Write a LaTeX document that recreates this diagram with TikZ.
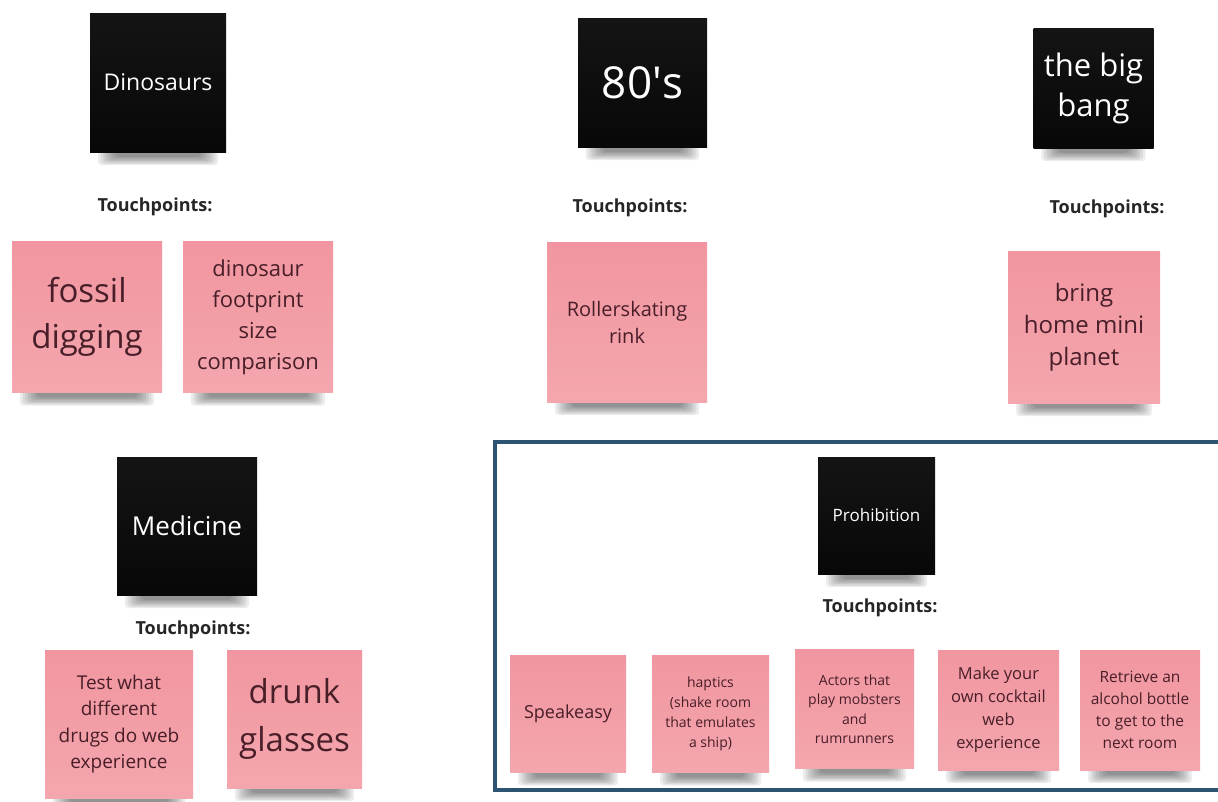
\documentclass[tikz,border=0pt]{standalone}
\usepackage{fontspec}
\setmainfont{Open Sans}
\usetikzlibrary{calc,backgrounds}
\definecolor{notepink}{RGB}{241,150,160}
\definecolor{notepinklight}{RGB}{244,166,174}
\definecolor{noteink}{RGB}{72,30,40}
\definecolor{framecol}{RGB}{44,84,112}
\newcommand{\fs}[2]{\fontsize{#1}{#2}\selectfont}
% soft shadow peeking out below a note
\newcommand{\noteshadow}[1]{%
  \begin{scope}[on background layer]
    \foreach \i in {0,...,6}{
      \fill[black, opacity=0.075, rounded corners=4pt]
        ($(#1.south west)+(8+2.8*\i,-10)$) rectangle ($(#1.south east)+(-8-2.8*\i,13-1.4*\i)$);
    }
  \end{scope}}
\tikzset{
  base/.style={inner sep=0pt, align=center},
  topic/.style={base, top color=black!92, bottom color=black!97, text=white},
  sticky/.style={base, top color=notepink, bottom color=notepinklight, text=noteink},
  tp/.style={font=\fs{18}{22}\bfseries, text=black!85, inner sep=0pt},
}
\begin{document}
\begin{tikzpicture}[x=1pt, y=-1pt]
\useasboundingbox (0,0) rectangle (1218,801);
\begin{scope}[on background layer]
  \fill[white] (0,0) rectangle (1218,801);
\end{scope}

% frame around the prohibition board (its right side runs off the page)
\draw[framecol, line width=4pt] (495,442) rectangle (1228,790);

% Dinosaurs
\node[topic, minimum width=136pt, minimum height=139pt, font=\fs{23}{30}] (dino) at (158,82.5) {Dinosaurs};
\node[tp] (tpdino) at (155,207) {Touchpoints:};
\node[sticky, minimum width=150pt, minimum height=151pt, font=\fs{33}{46}] (fossil) at (87,317) {fossil\\digging};
\node[sticky, minimum width=150pt, minimum height=151pt, font=\fs{22}{31}] (footprint) at (258,317) {dinosaur\\footprint\\size\\comparison};

% 80's
\node[topic, minimum width=129pt, minimum height=129pt, font=\fs{44}{50}] (eighties) at (642.5,82.5) {80\textquotesingle s};
\node[tp] (tpeighties) at (630,208) {Touchpoints:};
\node[sticky, minimum width=160pt, minimum height=160pt, font=\fs{20}{27}] (skating) at (627,322) {Rollerskating\\rink};

% the big bang
\node[topic, minimum width=120pt, minimum height=120pt, font=\fs{31}{40}] (bang) at (1093.5,88) {the big\\bang};
\node[tp] (tpbang) at (1107,209) {Touchpoints:};
\node[sticky, minimum width=152pt, minimum height=152pt, font=\fs{24}{32}] (planet) at (1084,327) {bring\\home mini\\planet};

% Medicine
\node[topic, minimum width=140pt, minimum height=138pt, font=\fs{26}{32}] (medicine) at (187,526) {Medicine};
\node[tp] (tpmedicine) at (193,630) {Touchpoints:};
\node[sticky, minimum width=148pt, minimum height=148pt, font=\fs{19}{26.5}] (drugs) at (119,724) {Test what\\different\\drugs do web\\experience};
\node[sticky, minimum width=135pt, minimum height=138pt, font=\fs{33}{48}] (drunk) at (294.5,719) {drunk\\glasses};

% Prohibition
\node[topic, minimum width=117pt, minimum height=117pt, font=\fs{17}{22}] (prohibition) at (876.5,515.5) {Prohibition};
\node[tp] (tpprohibition) at (880,608) {Touchpoints:};
\node[sticky, minimum width=116pt, minimum height=117pt, font=\fs{18}{24}] (speak) at (568,714) {Speakeasy};
\node[sticky, minimum width=117pt, minimum height=117pt, font=\fs{14}{20}] (haptics) at (710.5,714) {haptics\\(shake room\\that emulates\\a ship)};
\node[sticky, minimum width=119pt, minimum height=119pt, font=\fs{14}{19.5}] (actors) at (854.5,709) {Actors that\\play mobsters\\and\\rumrunners};
\node[sticky, minimum width=121pt, minimum height=120pt, font=\fs{16.5}{23}] (cocktail) at (998.5,710) {Make your\\own cocktail\\web\\experience};
\node[sticky, minimum width=120pt, minimum height=120pt, font=\fs{15.5}{22}] (bottle) at (1140,710) {Retrieve an\\alcohol bottle\\to get to the\\next room};

% shadows under every note
\foreach \n in {dino,fossil,footprint,eighties,skating,bang,planet,medicine,drugs,drunk,prohibition,speak,haptics,actors,cocktail,bottle}{
  \noteshadow{\n}
}
\end{tikzpicture}
\end{document}
